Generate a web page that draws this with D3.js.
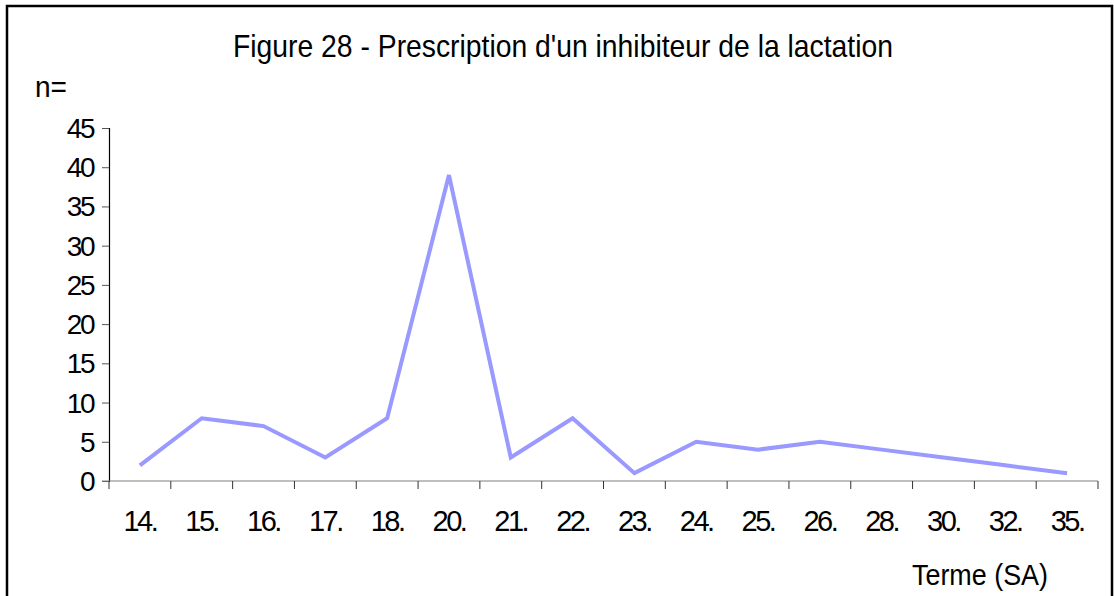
<!DOCTYPE html>
<html>
<head>
<meta charset="utf-8">
<script src="https://cdn.jsdelivr.net/npm/d3@7"></script>
<style>
  body { margin: 0; background: #fff; }
  svg text { font-family: "Liberation Sans", Arial, sans-serif; fill: #000; }
</style>
</head>
<body>
<svg id="chart" width="1114" height="596"></svg>
<script>
// data
var categories = ["14.", "15.", "16.", "17.", "18.", "20.", "21.", "22.", "23.", "24.", "25.", "26.", "28.", "30.", "32.", "35."];
var values = [2, 8, 7, 3, 8, 39, 3, 8, 1, 5, 4, 5, 4, 3, 2, 1];
var yTicks = [0, 5, 10, 15, 20, 25, 30, 35, 40, 45];

var [width, height] = [1114, 596];
var plot = { left: 109, right: 1098, top: 128, bottom: 481 };

var svg = d3.select("#chart");

/** outer frame */
svg.append("rect")
    .attr("x", 7).attr("y", 6)
    .attr("width", 1105).attr("height", 620)
    .attr("fill", "none")
    .attr("stroke", "#000")
    .attr("stroke-width", 2.5);

/** scales */
var xScale = d3.scaleBand()
    .domain(categories)
    .range([plot.left, plot.right]);
var yScale = d3.scaleLinear()
    .domain([0, 45])
    .range([plot.bottom, plot.top]);

/** y axis */
var yAxis = svg.append("g")
    .attr("transform", "translate(" + plot.left + ",0)")
    .call(d3.axisLeft(yScale).tickValues(yTicks).tickSize(7).tickPadding(9));
yAxis.select(".domain").attr("stroke", "#000").attr("stroke-width", 1.2);
yAxis.selectAll(".tick line").attr("stroke", "#555");
yAxis.selectAll(".tick text")
    .attr("font-size", 28)
    .attr("dy", "0.34em")
    .style("letter-spacing", "-2.5px");

/** x axis: ticks at band boundaries */
var xAxis = svg.append("g")
    .attr("transform", "translate(0," + plot.bottom + ")");
xAxis.append("line")
    .attr("x1", plot.left - 7).attr("x2", plot.right)
    .attr("stroke", "#808080").attr("stroke-width", 1.2);
var bounds = categories.map(c => xScale(c)).concat([plot.right]);
xAxis.selectAll("line.tk")
    .data(bounds)
    .enter().append("line")
    .attr("class", "tk")
    .attr("x1", d => d).attr("x2", d => d)
    .attr("y1", 0).attr("y2", 8)
    .attr("stroke", "#333");
xAxis.selectAll("text")
    .data(categories)
    .enter().append("text")
    .attr("x", d => xScale(d) + xScale.bandwidth() / 2)
    .attr("y", 50)
    .attr("text-anchor", "middle")
    .attr("font-size", 29)
    .style("letter-spacing", "-2.5px")
    .text(d => d);

/** line */
var line = d3.line()
    .x((d, i) => xScale(categories[i]) + xScale.bandwidth() / 2)
    .y(d => yScale(d));
svg.append("path")
    .datum(values)
    .attr("d", line)
    .attr("fill", "none")
    .attr("stroke", "#9999ff")
    .attr("stroke-width", 4)
    .attr("stroke-linejoin", "miter");

/** texts */
svg.append("text")
    .attr("x", 233).attr("y", 57)
    .attr("font-size", 32)
    .attr("textLength", 660)
    .attr("lengthAdjust", "spacingAndGlyphs")
    .text("Figure 28 - Prescription d'un inhibiteur de la lactation");
svg.append("text")
    .attr("x", 35).attr("y", 97)
    .attr("font-size", 29)
    .attr("textLength", 32)
    .attr("lengthAdjust", "spacingAndGlyphs")
    .text("n=");
svg.append("text")
    .attr("x", 912).attr("y", 585)
    .attr("font-size", 29)
    .attr("textLength", 136)
    .attr("lengthAdjust", "spacingAndGlyphs")
    .text("Terme (SA)");
</script>
</body>
</html>
